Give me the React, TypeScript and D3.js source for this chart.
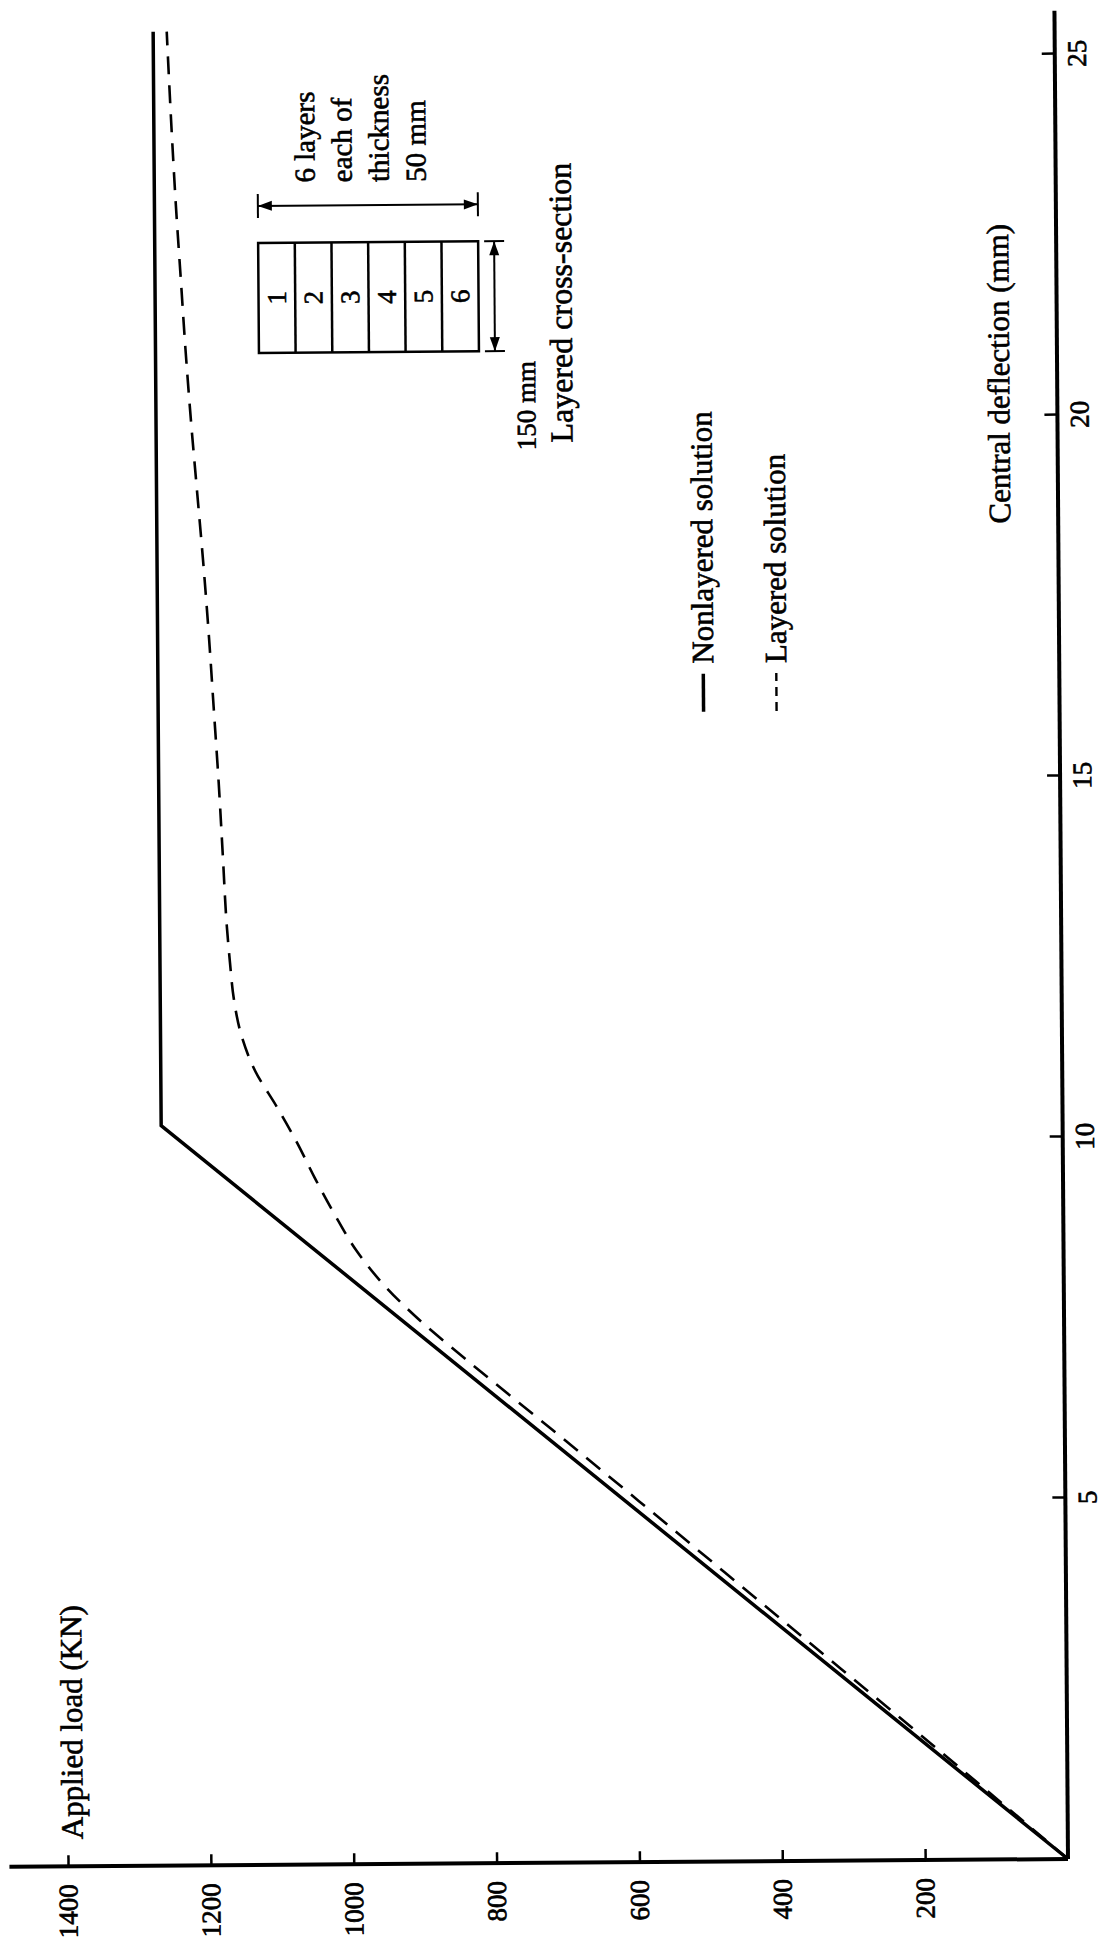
import {useEffect, useRef} from "react"

import * as d3 from "d3"

// deflection in mm, load in KN
const deflectionTicks = [5, 10, 15, 20, 25]
const loadTicks = [200, 400, 600, 800, 1000, 1200, 1400]

const nonlayeredDeflection = [0, 10.25, 25.4]
const nonlayeredLoad = [0, 1262, 1262]

const layeredDeflection = [
  0, 1, 2, 3, 4, 5, 6, 7, 7.6, 8, 8.5, 9, 9.5, 10, 10.5, 11, 11.5, 12, 12.5, 13,
  14, 15, 16, 17, 18, 19, 20, 21, 22, 23, 24, 25.4,
]
const layeredLoad = [
  0, 118, 237, 357, 477, 597, 718, 840, 910, 950, 990, 1020, 1047, 1072, 1100,
  1130, 1149, 1159, 1164, 1168, 1173, 1178, 1184, 1190, 1197, 1205, 1213, 1220,
  1226, 1232, 1237, 1243,
]

const seriesNames = ["Nonlayered solution", "Layered solution"]
const layerNumbers = ["1", "2", "3", "4", "5", "6"]
const layerNotes = ["6 layers", "each of", "thickness", "50 mm"]

const width = 1110
const height = 1943
const origin = {x: 1068, y: 1859}
const tilt = -90.42
const font = "'Liberation Serif', 'Times New Roman', serif"

const App = () => {
  const ref = useRef<SVGSVGElement>(null)

  useEffect(() => {
    const svg = d3.select(ref.current)
    svg.selectAll("*").remove()

    // the page is turned a quarter turn, so the chart is drawn upright and rotated
    const g = svg
      .append("g")
      .attr("transform", `translate(${origin.x},${origin.y}) rotate(${tilt})`)
      .style("color", "#000")

    const x = d3.scaleLinear().domain([0, 25]).range([0, 1805])
    const y = d3.scaleLinear().domain([0, 1400]).range([0, -1000])

    // axis lines
    g.append("line")
      .attr("x1", 0)
      .attr("x2", x(25.6))
      .attr("y1", 0)
      .attr("y2", 0)
      .attr("stroke", "#000")
      .attr("stroke-width", 4)
    g.append("line")
      .attr("x1", 0)
      .attr("x2", 0)
      .attr("y1", 0)
      .attr("y2", y(1482))
      .attr("stroke", "#000")
      .attr("stroke-width", 4)

    const xAxis = g
      .append("g")
      .call(
        d3
          .axisBottom(x)
          .tickValues(deflectionTicks)
          .tickFormat(d3.format("d"))
          .tickSizeInner(-13)
          .tickSizeOuter(0)
          .tickPadding(12),
      )
    const yAxis = g
      .append("g")
      .call(
        d3
          .axisLeft(y)
          .tickValues(loadTicks)
          .tickFormat(d3.format("d"))
          .tickSizeInner(-11)
          .tickSizeOuter(0)
          .tickPadding(18),
      )
    for (const axis of [xAxis, yAxis]) {
      axis.select(".domain").remove()
      axis.selectAll("line").attr("stroke-width", 2.5)
      axis
        .selectAll("text")
        .attr("font-family", font)
        .attr("font-size", 27)
        .attr("stroke", "#000")
        .attr("stroke-width", 0.7)
    }

    const solid = d3
      .line<number>()
      .x((d) => x(d))
      .y((_, i) => y(nonlayeredLoad[i]))
    g.append("path")
      .attr("d", solid(nonlayeredDeflection))
      .attr("fill", "none")
      .attr("stroke", "#000")
      .attr("stroke-width", 3.5)

    const dashed = d3
      .line<number>()
      .x((d) => x(d))
      .y((_, i) => y(layeredLoad[i]))
      .curve(d3.curveMonotoneX)
    g.append("path")
      .attr("d", dashed(layeredDeflection))
      .attr("fill", "none")
      .attr("stroke", "#000")
      .attr("stroke-width", 2.6)
      .attr("stroke-dasharray", "18 11")

    const text = (s: string, tx: number, ty: number, size = 31, anchor = "start") =>
      g
        .append("text")
        .attr("x", tx)
        .attr("y", ty)
        .attr("font-family", font)
        .attr("font-size", size)
        .attr("text-anchor", anchor)
        .attr("stroke", "#000")
        .attr("stroke-width", 0.6)
        .text(s)

    // axis titles
    text("Applied load (KN)", 27, -985)
    text("Central deflection (mm)", 1336, -48)

    // legend
    const legendRows = [-356, -283]
    seriesNames.forEach((name, i) => {
      g.append("line")
        .attr("x1", 1150)
        .attr("x2", 1188)
        .attr("y1", legendRows[i])
        .attr("y2", legendRows[i])
        .attr("stroke", "#000")
        .attr("stroke-width", i === 0 ? 3.5 : 2.4)
        .attr("stroke-dasharray", i === 0 ? null : "9 6")
      text(name, 1198, legendRows[i] + 10)
    })

    // cross-section sketch
    const box = {left: 1512, right: 1622, top: -798, bottom: -578}
    const rowH = (box.bottom - box.top) / layerNumbers.length
    g.append("rect")
      .attr("x", box.left)
      .attr("y", box.top)
      .attr("width", box.right - box.left)
      .attr("height", box.bottom - box.top)
      .attr("fill", "none")
      .attr("stroke", "#000")
      .attr("stroke-width", 2.5)
    layerNumbers.forEach((n, i) => {
      if (i > 0) {
        g.append("line")
          .attr("x1", box.left)
          .attr("x2", box.right)
          .attr("y1", box.top + rowH * i)
          .attr("y2", box.top + rowH * i)
          .attr("stroke", "#000")
          .attr("stroke-width", 2.5)
      }
      text(n, (box.left + box.right) / 2, box.top + rowH * (i + 0.5) + 9, 27, "middle")
    })

    const arrowHead = (px: number, py: number, dx: number, dy: number) => {
      const len = 14
      const half = 5
      const nx = -dy
      const ny = dx
      g.append("path")
        .attr(
          "d",
          `M${px},${py}L${px - dx * len + nx * half},${py - dy * len + ny * half}L${
            px - dx * len - nx * half
          },${py - dy * len - ny * half}Z`,
        )
        .attr("fill", "#000")
    }

    // thickness dimension, right of the box
    const dimX = 1659
    g.append("line")
      .attr("x1", dimX)
      .attr("x2", dimX)
      .attr("y1", box.top)
      .attr("y2", box.bottom)
      .attr("stroke", "#000")
      .attr("stroke-width", 2)
    for (const yy of [box.top, box.bottom]) {
      g.append("line")
        .attr("x1", dimX - 12)
        .attr("x2", dimX + 12)
        .attr("y1", yy)
        .attr("y2", yy)
        .attr("stroke", "#000")
        .attr("stroke-width", 2)
    }
    arrowHead(dimX, box.top, 0, -1)
    arrowHead(dimX, box.bottom, 0, 1)
    layerNotes.forEach((note, i) => {
      text(note, 1682, -741 + 37 * i, 29)
    })

    // width dimension, under the box
    const dimY = -562
    g.append("line")
      .attr("x1", box.left)
      .attr("x2", box.right)
      .attr("y1", dimY)
      .attr("y2", dimY)
      .attr("stroke", "#000")
      .attr("stroke-width", 2)
    for (const xx of [box.left, box.right]) {
      g.append("line")
        .attr("x1", xx)
        .attr("x2", xx)
        .attr("y1", dimY - 10)
        .attr("y2", dimY + 10)
        .attr("stroke", "#000")
        .attr("stroke-width", 2)
    }
    arrowHead(box.left, dimY, -1, 0)
    arrowHead(box.right, dimY, 1, 0)
    text("150 mm", 1502, -522, 27, "end")

    text("Layered cross-section", 1560, -485, 32, "middle")
  }, [])

  return (
    <svg
      ref={ref}
      width={width}
      height={height}
      style={{position: "absolute", left: 0, top: 0, background: "#fff"}}
    />
  )
}

export default App
